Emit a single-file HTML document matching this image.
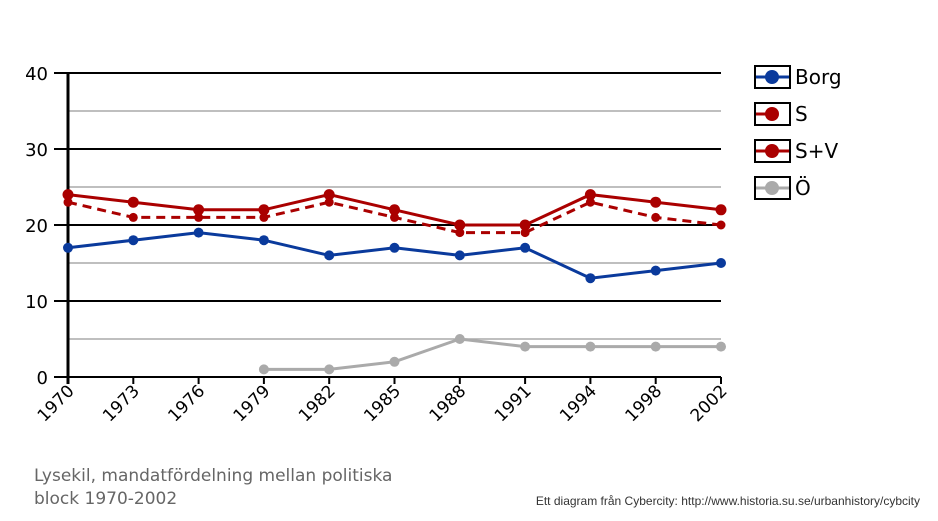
<!DOCTYPE html>
<html><head><meta charset="utf-8"><style>body{margin:0;background:#fff}svg{display:block;font-family:"DejaVu Sans","Liberation Sans",sans-serif}</style></head><body>
<svg width="938" height="521" viewBox="0 0 938 521" xmlns="http://www.w3.org/2000/svg">
<g stroke="#aaa" stroke-width="1.5">
<line x1="68" y1="111" x2="721" y2="111"/><line x1="68" y1="187" x2="721" y2="187"/><line x1="68" y1="263" x2="721" y2="263"/><line x1="68" y1="339" x2="721" y2="339"/>
</g>
<g stroke="#000" stroke-width="2">
<line x1="54" y1="73" x2="721" y2="73"/><line x1="54" y1="149" x2="721" y2="149"/><line x1="54" y1="225" x2="721" y2="225"/><line x1="54" y1="301" x2="721" y2="301"/><line x1="54" y1="377" x2="721" y2="377"/>
<line x1="68" y1="73" x2="68" y2="384" stroke-width="3"/>
<line x1="133.3" y1="377" x2="133.3" y2="384"/><line x1="198.6" y1="377" x2="198.6" y2="384"/><line x1="263.9" y1="377" x2="263.9" y2="384"/><line x1="329.2" y1="377" x2="329.2" y2="384"/><line x1="394.5" y1="377" x2="394.5" y2="384"/><line x1="459.8" y1="377" x2="459.8" y2="384"/><line x1="525.1" y1="377" x2="525.1" y2="384"/><line x1="590.4" y1="377" x2="590.4" y2="384"/><line x1="655.7" y1="377" x2="655.7" y2="384"/><line x1="721" y1="377" x2="721" y2="384"/>
</g>
<g font-size="18" text-anchor="end" fill="#000">
<text x="48" y="80">40</text><text x="48" y="156">30</text><text x="48" y="232">20</text><text x="48" y="308">10</text><text x="48" y="384">0</text>
</g>
<g font-size="17" text-anchor="end" fill="#000">
<text transform="translate(75,392) rotate(-45)">1970</text>
<text transform="translate(140.3,392) rotate(-45)">1973</text>
<text transform="translate(205.6,392) rotate(-45)">1976</text>
<text transform="translate(270.9,392) rotate(-45)">1979</text>
<text transform="translate(336.2,392) rotate(-45)">1982</text>
<text transform="translate(401.5,392) rotate(-45)">1985</text>
<text transform="translate(466.8,392) rotate(-45)">1988</text>
<text transform="translate(532.1,392) rotate(-45)">1991</text>
<text transform="translate(597.4,392) rotate(-45)">1994</text>
<text transform="translate(662.7,392) rotate(-45)">1998</text>
<text transform="translate(728,392) rotate(-45)">2002</text>
</g>
<g fill="none" stroke-width="3">
<polyline stroke="#aaa" points="263.9,369.4 329.2,369.4 394.5,361.8 459.8,339 525.1,346.6 590.4,346.6 655.7,346.6 721,346.6"/>
<polyline stroke="#0a3a9c" points="68,247.8 133.3,240.2 198.6,232.6 263.9,240.2 329.2,255.4 394.5,247.8 459.8,255.4 525.1,247.8 590.4,278.2 655.7,270.6 721,263"/>
<polyline stroke="#a00" stroke-dasharray="9,6" points="68,202.2 133.3,217.4 198.6,217.4 263.9,217.4 329.2,202.2 394.5,217.4 459.8,232.6 525.1,232.6 590.4,202.2 655.7,217.4 721,225"/>
<polyline stroke="#a00" points="68,194.6 133.3,202.2 198.6,209.8 263.9,209.8 329.2,194.6 394.5,209.8 459.8,225 525.1,225 590.4,194.6 655.7,202.2 721,209.8"/>
</g>
<g fill="#aaa"><circle cx="263.9" cy="369.4" r="5"/><circle cx="329.2" cy="369.4" r="5"/><circle cx="394.5" cy="361.8" r="5"/><circle cx="459.8" cy="339" r="5"/><circle cx="525.1" cy="346.6" r="5"/><circle cx="590.4" cy="346.6" r="5"/><circle cx="655.7" cy="346.6" r="5"/><circle cx="721" cy="346.6" r="5"/></g>
<g fill="#0a3a9c"><circle cx="68" cy="247.8" r="5"/><circle cx="133.3" cy="240.2" r="5"/><circle cx="198.6" cy="232.6" r="5"/><circle cx="263.9" cy="240.2" r="5"/><circle cx="329.2" cy="255.4" r="5"/><circle cx="394.5" cy="247.8" r="5"/><circle cx="459.8" cy="255.4" r="5"/><circle cx="525.1" cy="247.8" r="5"/><circle cx="590.4" cy="278.2" r="5"/><circle cx="655.7" cy="270.6" r="5"/><circle cx="721" cy="263" r="5"/></g>
<g fill="#a00"><circle cx="68" cy="202.2" r="4.5"/><circle cx="133.3" cy="217.4" r="4.5"/><circle cx="198.6" cy="217.4" r="4.5"/><circle cx="263.9" cy="217.4" r="4.5"/><circle cx="329.2" cy="202.2" r="4.5"/><circle cx="394.5" cy="217.4" r="4.5"/><circle cx="459.8" cy="232.6" r="4.5"/><circle cx="525.1" cy="232.6" r="4.5"/><circle cx="590.4" cy="202.2" r="4.5"/><circle cx="655.7" cy="217.4" r="4.5"/><circle cx="721" cy="225" r="4.5"/>
<circle cx="68" cy="194.6" r="5.5"/><circle cx="133.3" cy="202.2" r="5.5"/><circle cx="198.6" cy="209.8" r="5.5"/><circle cx="263.9" cy="209.8" r="5.5"/><circle cx="329.2" cy="194.6" r="5.5"/><circle cx="394.5" cy="209.8" r="5.5"/><circle cx="459.8" cy="225" r="5.5"/><circle cx="525.1" cy="225" r="5.5"/><circle cx="590.4" cy="194.6" r="5.5"/><circle cx="655.7" cy="202.2" r="5.5"/><circle cx="721" cy="209.8" r="5.5"/></g>
<g stroke="#000" stroke-width="2" fill="#fff">
<rect x="755" y="66" width="35" height="22"/><rect x="755" y="103" width="35" height="22"/><rect x="755" y="140" width="35" height="22"/><rect x="755" y="177" width="35" height="22"/>
</g>
<g stroke-width="3"><line x1="756" y1="77" x2="789" y2="77" stroke="#0a3a9c"/><line x1="756" y1="114" x2="772" y2="114" stroke="#a00"/><line x1="756" y1="151" x2="789" y2="151" stroke="#a00"/><line x1="756" y1="188" x2="789" y2="188" stroke="#aaa"/></g>
<circle cx="772" cy="77" r="7" fill="#0a3a9c"/><circle cx="772" cy="114" r="7" fill="#a00"/><circle cx="772" cy="151" r="7" fill="#a00"/><circle cx="772" cy="188" r="7" fill="#aaa"/>
<g font-size="20" fill="#000"><text x="795" y="84">Borg</text><text x="795" y="121">S</text><text x="795" y="158">S+V</text><text x="795" y="195">Ö</text></g>
<g font-size="17" fill="#666"><text x="34" y="481">Lysekil, mandatfördelning mellan politiska</text><text x="34" y="504">block 1970-2002</text></g>
<text x="920" y="505" font-size="12" fill="#333" text-anchor="end" font-family="Liberation Sans, sans-serif">Ett diagram från Cybercity: http://www.historia.su.se/urbanhistory/cybcity</text>
</svg>
</body></html>
